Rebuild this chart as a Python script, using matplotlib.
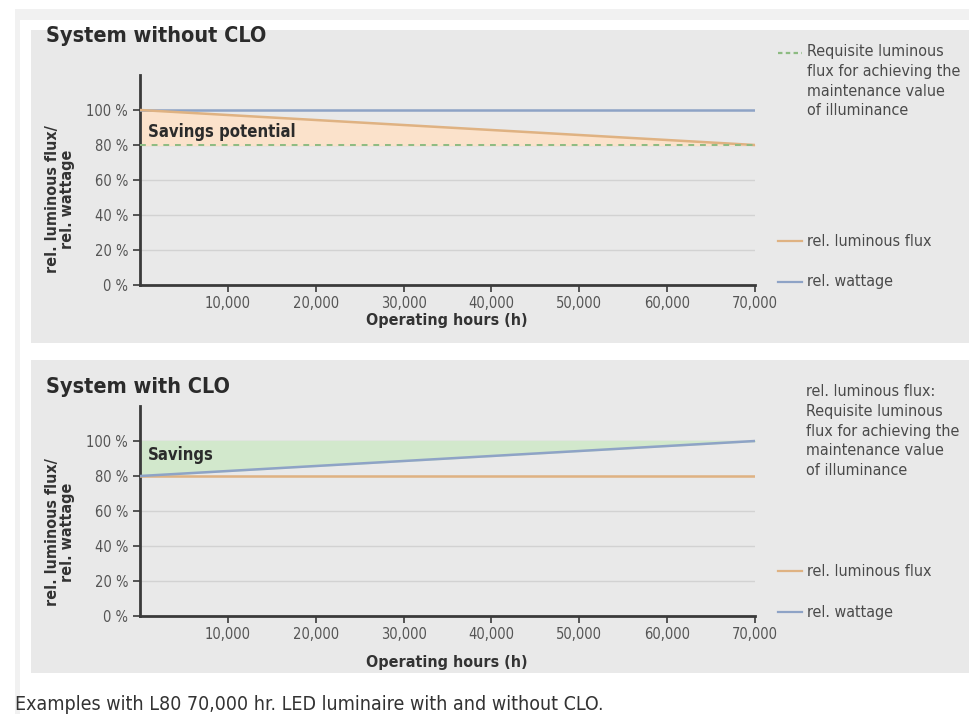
"""
Relative luminous flux / wattage over operating hours, with and without CLO.
"""

import matplotlib.pyplot as plt
from matplotlib.lines import Line2D
from matplotlib.patches import Rectangle

plt.rcParams["font.family"] = ["DejaVu Sans"]
plt.rcParams["font.stretch"] = "condensed"

# data
hours = [0, 70000]
x_ticks = [10000, 20000, 30000, 40000, 50000, 60000, 70000]
x_tick_labels = ["10,000", "20,000", "30,000", "40,000", "50,000", "60,000", "70,000"]
y_ticks = [0, 20, 40, 60, 80, 100]
y_tick_labels = ["0 %", "20 %", "40 %", "60 %", "80 %", "100 %"]

no_clo_flux = [100, 80]
no_clo_wattage = [100, 100]
no_clo_requisite = [80, 80]

clo_flux = [80, 80]
clo_wattage = [80, 100]
clo_target = [100, 100]

# colours
BG = "#e9e9e9"
BLUE = "#8ea3c6"
ORANGE = "#dfb282"
GREEN = "#8dbb82"
PEACH = "#fbe2cb"
MINT = "#d2e8cc"
GRID = "#d2d2d2"
SPINE = "#3a3a3a"
TXT = "#555555"
DARK = "#2b2b2b"

W, H = 970, 714
fig = plt.figure(figsize=(W / 100, H / 100), dpi=100)
fig.patch.set_facecolor("white")


def px(x, y):
    """pixel coords (top-left origin) -> figure fraction"""
    return x / W, 1 - y / H


def frect(x0, y0, x1, y1, color):
    fx, fy = px(x0, y1)
    fig.patches.append(
        Rectangle((fx, fy), (x1 - x0) / W, (y1 - y0) / H, transform=fig.transFigure,
                  facecolor=color, edgecolor="none", zorder=-10)
    )


# frame and panel backgrounds
frect(15, 9, W, H, "#f1f1f1")
frect(20, 20, W, H, "white")
frect(31, 30, W, 343, BG)
frect(31, 360, W, 673, BG)


def setup_axes(ax):
    ax.set_facecolor("none")
    ax.set_xlim(0, 70000)
    ax.set_ylim(0, 120)
    for s in ["top", "right"]:
        ax.spines[s].set_visible(False)
    for s in ["left", "bottom"]:
        ax.spines[s].set_color(SPINE)
        ax.spines[s].set_linewidth(2)
    ax.set_yticks(y_ticks)
    ax.set_yticklabels(y_tick_labels)
    ax.set_xticks(x_ticks)
    ax.set_xticklabels(x_tick_labels)
    ax.tick_params(axis="both", colors=SPINE, labelcolor=TXT, labelsize=10.5,
                   length=5, width=1.2)
    ax.tick_params(axis="x", pad=3)
    for yv in y_ticks[1:]:
        ax.axhline(yv, color=GRID, linewidth=1, zorder=0)


def legend_entry(x, y, color, text, dashed=False):
    fx0, fy = px(x, y)
    fx1, _ = px(x + 24, y)
    fig.lines.append(Line2D([fx0, fx1], [fy, fy], transform=fig.transFigure,
                            color=color, linewidth=1.6,
                            linestyle=(0, (2, 1.5)) if dashed else "-"))
    tx, _ = px(x + 29, y)
    return fig.text(tx, fy, text, fontsize=11.5, color="#4a4a4a",
                    va="center", ha="left")


# Panel 1: System without CLO
ax1 = fig.add_axes([140 / W, 1 - 285 / H, 615 / W, 210 / H])
setup_axes(ax1)
ax1.fill_between(hours, no_clo_flux, no_clo_requisite, color=PEACH, zorder=1)
ax1.plot(hours, no_clo_wattage, color=BLUE, linewidth=1.8, zorder=3)
ax1.plot(hours, no_clo_flux, color=ORANGE, linewidth=1.8, zorder=3)
ax1.plot(hours, no_clo_requisite, color=GREEN, linewidth=1.4,
         linestyle=(0, (3, 3)), zorder=4)
ax1.text(900, 87.5, "Savings potential", fontsize=12, fontweight="bold",
         color=DARK, va="center", ha="left")

# Panel 2: System with CLO
ax2 = fig.add_axes([140 / W, 1 - 616 / H, 615 / W, 210 / H])
setup_axes(ax2)
ax2.fill_between(hours, clo_wattage, clo_target, color=MINT, zorder=1)
ax2.plot(hours, clo_flux, color=ORANGE, linewidth=1.8, zorder=3)
ax2.plot(hours, clo_wattage, color=BLUE, linewidth=1.8, zorder=3)
ax2.text(900, 92, "Savings", fontsize=12, fontweight="bold",
         color=DARK, va="center", ha="left")

# titles and axis labels
for title, ty in [("System without CLO", 36), ("System with CLO", 387)]:
    fig.text(*px(46, ty), title, fontsize=15.5, fontweight="bold", color=DARK,
             va="center", ha="left")

for cy in [199, 532]:
    fig.text(*px(60, cy), "rel. luminous flux/\nrel. wattage", rotation=90,
             fontsize=11.5, fontweight="bold", color="#333333", va="center",
             ha="center", multialignment="center", linespacing=1.0)

for ly in [321, 662]:
    fig.text(*px(447, ly), "Operating hours (h)", fontsize=11.5, fontweight="bold",
             color="#333333", va="center", ha="center")

# legends
t = legend_entry(778, 53, GREEN, "Requisite luminous\nflux for achieving the\n"
                 "maintenance value\nof illuminance", dashed=True)
t.set_va("top")
t.set_position(px(807, 44))
t.set_linespacing(1.4)
legend_entry(778, 241, ORANGE, "rel. luminous flux")
legend_entry(778, 282, BLUE, "rel. wattage")

fig.text(*px(806, 384), "rel. luminous flux:\nRequisite luminous\nflux for achieving the\n"
         "maintenance value\nof illuminance", fontsize=11.5, color="#4a4a4a",
         va="top", ha="left", linespacing=1.4)
legend_entry(778, 571, ORANGE, "rel. luminous flux")
legend_entry(778, 612, BLUE, "rel. wattage")

# caption
fig.text(*px(15, 710), "Examples with L80 70,000 hr. LED luminaire with and without CLO.",
         fontsize=14, color="#333333", va="baseline", ha="left")

fig.savefig("out.png", dpi=100)
